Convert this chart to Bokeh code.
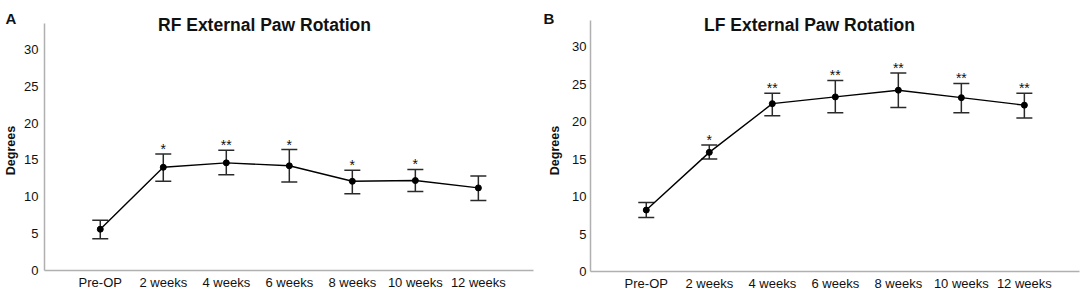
import math
from bokeh.plotting import figure
from bokeh.models import Range1d, FixedTicker, Label, Whisker, TeeHead, ColumnDataSource
from bokeh.layouts import row
from bokeh.embed import file_html
from bokeh.resources import INLINE
from bokeh.core.properties import value

categories = ["Pre-OP", "2 weeks", "4 weeks", "6 weeks", "8 weeks", "10 weeks", "12 weeks"]

rf_mean = [5.6, 14.0, 14.6, 14.2, 12.1, 12.2, 11.2]
rf_upper = [6.8, 15.8, 16.3, 16.4, 13.6, 13.7, 12.8]
rf_lower = [4.3, 12.1, 13.0, 12.0, 10.4, 10.7, 9.5]
rf_sig = ["", "*", "**", "*", "*", "*", ""]

lf_mean = [8.2, 15.9, 22.4, 23.3, 24.2, 23.2, 22.2]
lf_upper = [9.2, 16.9, 23.8, 25.5, 26.5, 25.1, 23.8]
lf_lower = [7.2, 15.0, 20.8, 21.2, 21.9, 21.2, 20.5]
lf_sig = ["", "*", "**", "**", "**", "**", "**"]

y_ticks = [0, 5, 10, 15, 20, 25, 30]

FONT = "Liberation Sans"
INK = "#111111"
AXIS_GREY = "#b0b0b0"
X_LO, X_HI = -0.885, 6.875
Y_LO, Y_HI = 0, 33.5


def panel(letter, title, mean, upper, lower, sig, W, H,
          ax_left, ax_right, ax_top, ax_bottom, ytick_standoff,
          title_cx, letter_x, ylabel_x):
    xppu = (ax_right - ax_left) / (X_HI - X_LO)
    yppu = (ax_bottom - ax_top) / (Y_HI - Y_LO)
    x_range = Range1d(X_LO - ax_left / xppu, X_LO + (W - ax_left) / xppu)
    y_range = Range1d(Y_LO - (H - ax_bottom) / yppu, Y_HI + ax_top / yppu)

    p = figure(width=W, height=H, output_backend="svg", toolbar_location=None,
               x_range=x_range, y_range=y_range,
               min_border_left=0, min_border_right=0,
               min_border_top=0, min_border_bottom=0,
               background_fill_color="white", border_fill_color="white")
    p.outline_line_color = None
    p.grid.visible = False

    xs = list(range(len(categories)))
    src = ColumnDataSource(dict(x=xs, mean=mean, upper=upper, lower=lower, sig=sig))

    for ax in (p.xaxis[0], p.yaxis[0]):
        ax.axis_line_color = AXIS_GREY
        ax.axis_line_width = 1.5
        ax.major_tick_line_color = None
        ax.minor_tick_line_color = None
        ax.major_tick_out = 0
        ax.major_tick_in = 0
        ax.major_label_text_font = FONT
        ax.major_label_text_font_size = "13px"
        ax.major_label_text_color = INK
    p.xaxis.fixed_location = Y_LO
    p.xaxis.bounds = (X_LO, X_HI)
    p.xaxis.ticker = FixedTicker(ticks=xs)
    p.xaxis.major_label_overrides = {i: c for i, c in enumerate(categories)}
    p.xaxis.major_label_standoff = 4
    p.yaxis.fixed_location = X_LO
    p.yaxis.bounds = (Y_LO, Y_HI)
    p.yaxis.ticker = FixedTicker(ticks=y_ticks)
    p.yaxis.major_label_standoff = ytick_standoff

    w = Whisker(source=src, base="x", upper="upper", lower="lower",
                line_color="#2a2a2a", line_width=1.5,
                upper_head=TeeHead(size=16, line_color="#2a2a2a", line_width=1.5),
                lower_head=TeeHead(size=16, line_color="#2a2a2a", line_width=1.5))
    p.add_layout(w)

    p.line("x", "mean", source=src, line_color="black", line_width=1.4)
    p.scatter("x", "mean", source=src, size=6, fill_color="black", line_color="black")

    p.text("x", "upper", text="sig", source=src, text_align="center",
           text_baseline="middle", y_offset=-5, text_font=value(FONT),
           text_font_size="14px", text_color=INK)

    p.add_layout(Label(x=title_cx, y=H - 24, x_units="screen", y_units="screen",
                       text=title, text_align="center", text_baseline="alphabetic",
                       text_font=FONT, text_font_size="17.5px",
                       text_font_style="bold", text_color=INK))
    p.add_layout(Label(x=letter_x, y=H - 18, x_units="screen", y_units="screen",
                       text=letter, text_align="left", text_baseline="alphabetic",
                       text_font=FONT, text_font_size="15px",
                       text_font_style="bold", text_color=INK))
    p.add_layout(Label(x=ylabel_x, y=H - 150, x_units="screen", y_units="screen",
                       text="Degrees", angle=math.pi / 2,
                       text_align="center", text_baseline="middle", text_font=FONT,
                       text_font_size="12.5px", text_font_style="bold", text_color=INK))
    return p


left = panel("A", "RF External Paw Rotation", rf_mean, rf_upper, rf_lower, rf_sig,
             540, 291, 44, 533, 23, 270, 6, 264, 5, 10)
right = panel("B", "LF External Paw Rotation", lf_mean, lf_upper, lf_lower, lf_sig,
              544, 291, 50, 539, 20, 271, 4, 269, 3, 14)

layout = row(left, right)
open("out.html", "w").write(file_html(layout, INLINE))
